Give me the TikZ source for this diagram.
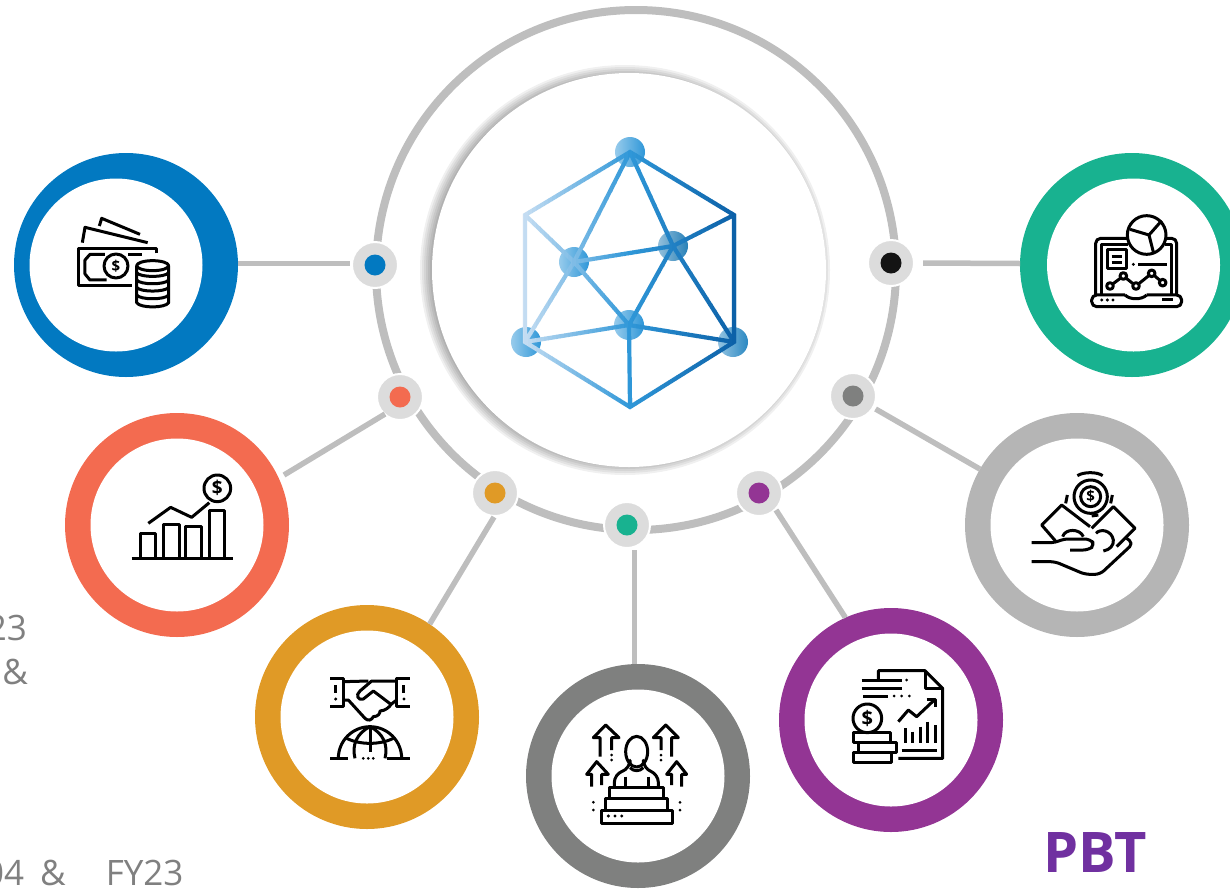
\documentclass[tikz,border=0pt]{standalone}
\usepackage{fontspec}
\setmainfont{Open Sans}
\definecolor{RING_BLUE}{HTML}{0279C1}
\definecolor{RING_GREEN}{HTML}{18B290}
\definecolor{RING_CORAL}{HTML}{F36B50}
\definecolor{RING_ORANGE}{HTML}{E09A26}
\definecolor{RING_GREY}{HTML}{7F807F}
\definecolor{RING_PURPLE}{HTML}{933594}
\definecolor{RING_LIGHT}{HTML}{B5B5B5}
\definecolor{LINK_GREY}{HTML}{BEBEBE}
\definecolor{DOT_GREY}{HTML}{DCDCDC}
\definecolor{TEXT_GREY}{HTML}{808080}
\definecolor{PBT_PURPLE}{HTML}{7030A0}
\definecolor{LOGO_LEFT}{HTML}{C9DFF3}
\definecolor{LOGO_MID}{HTML}{2F97D8}
\definecolor{LOGO_RIGHT}{HTML}{0B5FA6}
\tikzset{
	ring/.style={circle, fill=#1, minimum size=224pt, inner sep=0pt, outer sep=0pt},
	hole/.style={circle, fill=white, minimum size=173pt, inner sep=0pt},
	dot/.style={circle, fill=DOT_GREY, draw=white, line width=2pt, minimum size=46pt, inner sep=0pt},
	pip/.style={circle, fill=#1, minimum size=21pt, inner sep=0pt},
	link/.style={draw=LINK_GREY, line width=5.5pt},
	ball/.style={circle, left color=#1!50!white, right color=#1, minimum size=30pt, inner sep=0pt},
	icon/.style={x=0.3333pt, y=-0.3333pt, line width=3pt, line join=round},
	cash/.style={inner sep=0pt, font=\bfseries\fontsize{#1}{#1}\selectfont},
	note/.style={text=TEXT_GREY, inner sep=0pt, font=\fontsize{35}{35}\selectfont}
}
\newcommand{\logoedges}{(n0.center) -- (c0) -- (c2) -- (c4) -- (c3) -- (c1) -- cycle
	(n0.center) -- (n1.center) (n0.center) -- (n2.center) (n1.center) -- (n2.center)
	(c0) -- (n1.center) (n1.center) -- (n3.center) (n1.center) -- (c2)
	(c1) -- (n2.center) (n2.center) -- (n3.center) (n2.center) -- (c3)
	(n3.center) -- (c2) (n3.center) -- (c3) (n3.center) -- (c4)}
\begin{document}
\begin{tikzpicture}[x=1pt, y=-1pt]
	\useasboundingbox (0,0) rectangle (1230,889);
	\node[circle, draw=LINK_GREY, line width=8pt, minimum size=520pt, inner sep=0pt] (o0) at (636,270) {};
	\foreach \r in {191,193,...,205} {
		\fill[black, opacity=0.06] (625,270) circle (\r);
	}
	\node[circle, fill=white, minimum size=394pt, inner sep=0pt] (o) at (629,270) {};

	\node[ring=RING_BLUE] (r0) at (126,265) {};
	\node[hole] (w0) at (116,265) {};
	\node[ring=RING_CORAL] (r1) at (177,525) {};
	\node[hole] (w1) at (177,525) {};
	\node[ring=RING_ORANGE] (r2) at (367,717) {};
	\node[hole] (w2) at (367,717) {};
	\node[ring=RING_GREY] (r3) at (638,776) {};
	\node[hole] (w3) at (638,776) {};
	\node[ring=RING_PURPLE] (r4) at (891,720) {};
	\node[hole] (w4) at (891,720) {};
	\node[ring=RING_LIGHT] (r5) at (1077,525) {};
	\node[hole] (w5) at (1077,525) {};
	\node[ring=RING_GREEN] (r6) at (1132,265) {};
	\node[hole] (w6) at (1133.5,265) {};

	\node[dot] (d0) at (375,265) {};
	\node[pip=RING_BLUE] (p0) at (d0) {};
	\node[dot] (d1) at (400,397) {};
	\node[pip=RING_CORAL] (p1) at (d1) {};
	\node[dot] (d2) at (495,493) {};
	\node[pip=RING_ORANGE] (p2) at (d2) {};
	\node[dot] (d3) at (627,525) {};
	\node[pip=RING_GREEN] (p3) at (d3) {};
	\node[dot] (d4) at (759,493) {};
	\node[pip=RING_PURPLE] (p4) at (d4) {};
	\node[dot] (d5) at (853,396) {};
	\node[pip=RING_GREY] (p5) at (d5) {};
	\node[dot] (d6) at (891,263) {};
	\node[pip=black!92] (p6) at (d6) {};

	\draw[link] ([yshift=1.5pt]r0.east) -- ([xshift=-1pt, yshift=1.5pt]d0.west);
	\draw[link] ([xshift=10pt, yshift=-6pt]r1.30) -- ([xshift=-15pt, yshift=-17pt]d1.center);
	\draw[link] (r2.56) -- ([xshift=-1pt, yshift=-24pt]d2.center);
	\draw[link] ([xshift=-3.5pt]r3.north) -- ([xshift=7.5pt, yshift=-1pt]d3.south);
	\draw[link] (r4.114) -- ([xshift=17pt, yshift=-17pt]d4.center);
	\draw[link, shorten >=2pt] (r5) -- (d5);
	\draw[link] ([yshift=1.5pt]r6.west) -- ([xshift=8pt]d6.east);

	\coordinate (c0) at (525,215);
	\coordinate (c1) at (734,215);
	\coordinate (c2) at (525,342);
	\coordinate (c3) at (734,342);
	\coordinate (c4) at (630,407);
	\node[ball=LOGO_MID] (n0) at (630,152) {};
	\node[ball=LOGO_MID] (n1) at (574,262) {};
	\node[ball=LOGO_MID!85!black] (n2) at (673,246) {};
	\node[ball=LOGO_MID] (n3) at (629,325) {};
	\node[ball=LOGO_MID] (n4) at (526,342) {};
	\node[ball=LOGO_MID!90!black] (n5) at (733,342) {};
	\foreach \s in {0,...,54} {
		\pgfmathsetmacro{\t}{\s/54*100}
		\ifdim\t pt<50pt
			\pgfmathsetmacro{\m}{2*\t}
			\colorlet{stripcol}{LOGO_MID!\m!LOGO_LEFT}
		\else
			\pgfmathsetmacro{\m}{2*\t-100}
			\colorlet{stripcol}{LOGO_RIGHT!\m!LOGO_MID}
		\fi
		\begin{scope}
			\clip (520+4*\s,140) rectangle (524.4+4*\s,415);
			\path[draw=stripcol, line width=4.2pt, line join=miter] \logoedges;
		\end{scope}
	}

	\begin{scope}[shift={(60,200)}, icon]
		\draw (118,78) -- (125,55) -- (240,103);
		\draw (67,128) -- (75,82) -- (263,128);
		\draw (290,160) -- (290,145) -- (57,145) -- (57,258) -- (215,258);
		\draw (135,163) -- (90,163) -- (75,180) -- (75,222) -- (90,240) -- (140,240);
		\draw (205,163) -- (245,163);
		\draw (168,198) circle (36);
		\node[cash=15] (m0) at (168,198) {\$};
		\draw (230,197) -- (230,308) .. controls (240,325) and (316,325) .. (326,308) -- (326,197);
		\draw (278,197) ellipse (48 and 15);
		\foreach \yy in {218,240,262,285} {
			\draw (230,\yy) .. controls (240,\yy+15) and (316,\yy+15) .. (326,\yy);
		}
	\end{scope}

	\begin{scope}[shift={(1075,200)}, icon]
		\draw[rounded corners=5pt] (62,285) -- (62,115) -- (165,115);
		\draw[rounded corners=5pt] (265,115) -- (305,115) -- (305,285);
		\draw (78,285) -- (78,132) -- (160,132);
		\draw (270,132) -- (290,132) -- (290,285);
		\draw[rounded corners=5pt] (150,285) -- (50,285) -- (50,320) -- (320,320) -- (320,285) -- (215,285);
		\draw (150,285) .. controls (165,300) and (200,300) .. (215,285);
		\fill (80,300) circle (5);
		\fill (97,300) circle (5);
		\fill (114,300) circle (5);
		\draw (262,300) -- (295,300);
		\draw[fill=white] (215,105) circle (58);
		\draw (222,105) -- (165,88);
		\draw (222,105) -- (260,62);
		\draw (222,105) -- (236,160);
		\draw (97,150) rectangle (155,205);
		\draw (110,170) -- (142,170);
		\draw (110,188) -- (142,188);
		\fill (175,193) circle (5);
		\draw (190,193) -- (275,193);
		\draw (105,258) -- (145,228) -- (183,258) -- (230,220) -- (263,248);
		\draw[fill=white] (105,258) circle (10);
		\draw[fill=white] (145,228) circle (10);
		\draw[fill=white] (183,258) circle (10);
		\draw[fill=white] (230,220) circle (10);
		\draw[fill=white] (263,248) circle (10);
	\end{scope}

	\begin{scope}[shift={(120,460)}, icon]
		\draw (35,295) -- (340,295);
		\draw (62,295) |- (108,220) -- (108,295);
		\draw (132,295) |- (178,192) -- (178,295);
		\draw (198,295) |- (245,200) -- (245,295);
		\draw (268,295) |- (315,152) -- (315,295);
		\draw (85,190) -- (152,142) -- (215,172) -- (268,128);
		\draw (292,85) circle (40);
		\node[cash=19] (m1) at (292,85) {\$};
	\end{scope}

	\begin{scope}[shift={(315,665)}, icon]
		\draw (45,40) -- (85,40) -- (85,125) -- (45,125);
		\draw (62,60) -- (62,85);
		\fill (62,102) circle (5);
		\draw (285,40) -- (245,40) -- (245,125) -- (285,125);
		\draw (267,60) -- (267,85);
		\fill (267,102) circle (5);
		\draw (85,50) -- (160,48);
		\draw (85,105) -- (100,105) -- (150,160) .. controls (160,170) and (170,165) .. (175,155) .. controls (190,155) and (195,145) .. (195,138) .. controls (210,138) and (225,125) .. (228,118) -- (175,78) -- (145,102) .. controls (130,108) and (120,90) .. (135,78) -- (170,48) -- (245,48);
		\draw (228,118) -- (245,105);
		\draw (70,280) arc (180:360:95);
		\draw (45,280) -- (100,280);
		\draw (215,280) -- (285,280);
		\draw (120,280) .. controls (110,240) and (125,205) .. (165,185) .. controls (205,205) and (220,240) .. (210,280);
		\draw (165,185) -- (165,262);
		\draw (95,220) .. controls (135,240) and (195,240) .. (235,220);
		\fill (145,280) circle (4.5);
		\fill (160,280) circle (4.5);
		\fill (175,280) circle (4.5);
	\end{scope}

	\begin{scope}[shift={(575,715)}, icon]
		\draw (78,285) rectangle (292,325);
		\draw (92,285) -- (92,250) -- (278,250) -- (278,285);
		\draw (103,250) -- (103,218) -- (265,218) -- (265,250);
		\fill (100,303) circle (5);
		\fill (120,303) circle (5);
		\fill (140,303) circle (5);
		\draw[rounded corners=8pt] (118,218) -- (118,178) -- (165,160) -- (165,148);
		\draw[rounded corners=8pt] (250,218) -- (250,178) -- (205,160) -- (205,148);
		\draw (150,185) -- (150,218);
		\draw (220,185) -- (220,218);
		\draw (185,110) ellipse (33 and 46);
		\draw (165,158) .. controls (175,170) and (195,170) .. (205,158);
		\draw (75,125) -- (75,68) -- (55,68) -- (92,30) -- (132,68) -- (110,68) -- (110,105);
		\fill (110,120) circle (4.5);
		\fill (110,135) circle (4.5);
		\draw (290,125) -- (290,68) -- (310,68) -- (272,30) -- (235,68) -- (258,68) -- (258,105);
		\fill (258,120) circle (4.5);
		\fill (258,135) circle (4.5);
		\draw (50,215) -- (50,178) -- (35,178) -- (65,140) -- (100,178) -- (80,178) -- (80,210);
		\fill (55,262) circle (4.5);
		\fill (55,285) circle (4.5);
		\draw (290,210) -- (290,178) -- (275,178) -- (305,140) -- (335,178) -- (320,178) -- (320,215);
		\fill (315,262) circle (4.5);
		\fill (315,285) circle (4.5);
	\end{scope}

	\begin{scope}[shift={(840,660)}, icon]
		\draw (115,60) -- (115,32) -- (255,32) -- (308,85) -- (308,295) -- (175,295);
		\draw (255,32) -- (255,85) -- (308,85);
		\draw (65,60) -- (185,60);
		\fill (200,60) circle (4.5);
		\draw (65,85) -- (185,85);
		\draw (70,108) -- (145,108);
		\fill (162,108) circle (4.5);
		\fill (185,108) circle (4.5);
		\fill (208,108) circle (4.5);
		\draw (82,175) circle (43);
		\node[cash=20] (m4) at (82,175) {\$};
		\draw (40,218) rectangle (150,248);
		\draw (55,248) rectangle (170,278);
		\draw (40,278) rectangle (155,308);
		\draw (175,185) -- (205,150) -- (230,170) -- (285,118);
		\draw (260,118) -- (285,118) -- (285,142);
		\draw (195,205) -- (195,250);
		\draw (218,215) -- (218,250);
		\draw (240,200) -- (240,250);
		\draw (262,185) -- (262,250);
		\draw (285,195) -- (285,250);
		\draw (185,270) -- (290,270);
	\end{scope}

	\begin{scope}[shift={(1020,465)}, icon]
		\draw (212,95) circle (50);
		\draw (212,95) circle (30);
		\node[cash=15] (m5) at (212,95) {\$};
		\draw (172,32) .. controls (190,20) and (232,20) .. (248,32);
		\draw (142,90) -- (137,115);
		\draw (277,90) -- (272,115);
		\draw (215,153) -- (235,150);
		\draw (110,232) -- (65,180) -- (125,120) -- (210,185);
		\draw (215,190) -- (280,125) -- (345,190) -- (290,245);
		\draw (128,215) .. controls (135,190) and (180,190) .. (190,215);
		\draw (228,205) .. controls (240,190) and (275,195) .. (280,225) .. controls (282,240) and (270,255) .. (250,258);
		\draw[rounded corners=5pt] (35,233) -- (105,233) -- (130,222) -- (210,222) -- (225,240) -- (205,255) -- (150,255);
		\draw[rounded corners=5pt] (35,290) -- (105,290) -- (195,328) -- (240,328) -- (340,235) -- (320,220);
	\end{scope}

	\node[note, anchor=base east] (t0) at (27,640) {23};
	\node[note, anchor=base east] (t1) at (28,684) {\&};
	\node[note, anchor=base west] (t2) at (-16,885) {04\hspace{16pt}\&\hspace{40pt}FY23};
	\node[text=PBT_PURPLE, inner sep=0pt, anchor=base west, font=\bfseries\fontsize{56}{56}\selectfont] (t3) at (1043,872) {PBT};
\end{tikzpicture}
\end{document}
